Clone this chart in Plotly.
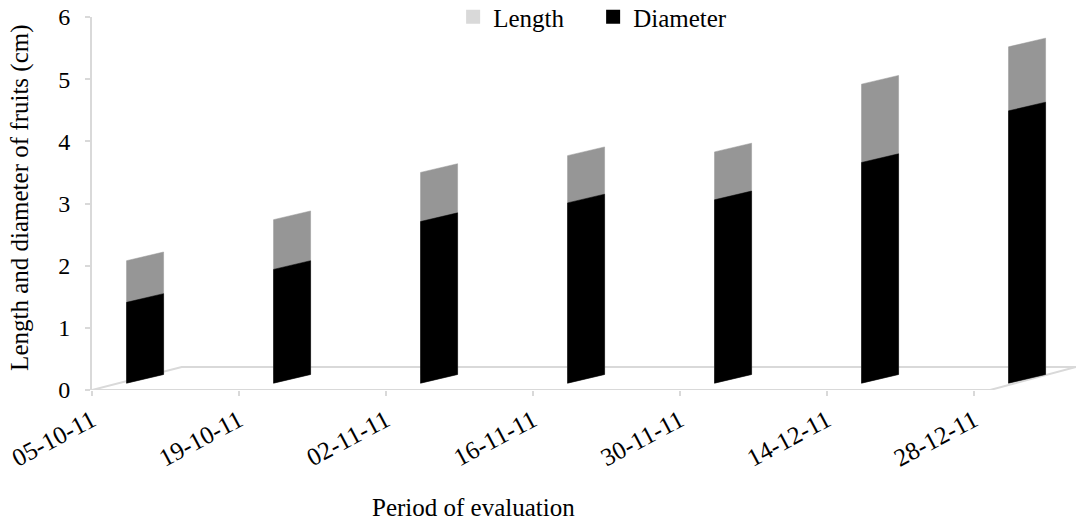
import plotly.graph_objects as go

# Evaluation dates and fruit measurements (cm)
dates = ["05-10-11", "19-10-11", "02-11-11", "16-11-11", "30-11-11", "14-12-11", "28-12-11"]
length_cm = [1.97, 2.63, 3.39, 3.66, 3.72, 4.81, 5.41]
diameter_cm = [1.30, 1.83, 2.60, 2.90, 2.95, 3.55, 4.38]

# Pseudo-3D styling: bars stand on a floor slightly behind the front edge
BAR_OFFSET = 0.235   # shift of each bar from its category tick
BAR_W = 0.252        # bar width in category units
FLOOR_Y = 0.11       # height where the bar meets the floor
SKEW = 0.14          # rise of the right edge of each bar
FLOOR_DEPTH_X = 0.61
FLOOR_DEPTH_Y = 0.37
FLOOR_FRONT_END = 6.11
X_MAX = 6.694

FONT = "Liberation Serif, Times New Roman, serif"
FLOOR_COLOR = "#d9d9d9"


def bar_polygon(i, value):
    x0 = i + BAR_OFFSET
    x1 = x0 + BAR_W
    xs = [x0, x1, x1, x0, x0]
    ys = [FLOOR_Y, FLOOR_Y + SKEW, FLOOR_Y + SKEW + value, FLOOR_Y + value, FLOOR_Y]
    return xs, ys


fig = go.Figure()

# Floor outline
floor_x = [0, FLOOR_FRONT_END, X_MAX, FLOOR_DEPTH_X, 0]
floor_y = [0, 0, FLOOR_DEPTH_Y, FLOOR_DEPTH_Y, 0]
fig.add_trace(go.Scatter(x=floor_x, y=floor_y, mode="lines",
                         line=dict(color=FLOOR_COLOR, width=2),
                         hoverinfo="skip", showlegend=False))

# Length bars (behind), diameter bars (in front)
for i, v in enumerate(length_cm):
    xs, ys = bar_polygon(i, v)
    fig.add_trace(go.Scatter(x=xs, y=ys, mode="lines", fill="toself",
                             fillcolor="#969696", line=dict(color="#969696", width=0.5),
                             name="Length", showlegend=False))
for i, v in enumerate(diameter_cm):
    xs, ys = bar_polygon(i, v)
    fig.add_trace(go.Scatter(x=xs, y=ys, mode="lines", fill="toself",
                             fillcolor="#000000", line=dict(color="#000000", width=0.5),
                             name="Diameter", showlegend=False))

# Legend entries
fig.add_trace(go.Scatter(x=[None], y=[None], mode="markers", name="Length",
                         marker=dict(symbol="square", size=14, color="#d9d9d9")))
fig.add_trace(go.Scatter(x=[None], y=[None], mode="markers", name="Diameter",
                         marker=dict(symbol="square", size=14, color="#000000")))

fig.update_layout(
    width=1076, height=522,
    margin=dict(l=92, r=0, t=17, b=132, autoexpand=False),
    paper_bgcolor="white", plot_bgcolor="white",
    font=dict(family=FONT, size=25, color="black"),
    legend=dict(orientation="h", x=0.367, y=1.0, xanchor="left", yanchor="middle",
                font=dict(family=FONT, size=25, color="black"),
                bgcolor="rgba(0,0,0,0)", itemwidth=30, entrywidth=95),
    xaxis=dict(range=[0, X_MAX], tickmode="array", tickvals=list(range(len(dates))),
               ticktext=dates, tickangle=-28, ticks="outside", ticklen=5,
               tickcolor=FLOOR_COLOR, tickwidth=1.5, showline=False, showgrid=False,
               zeroline=False, automargin=False,
               tickfont=dict(family=FONT, size=25, color="black")),
    yaxis=dict(range=[0, 6], tickvals=[0, 1, 2, 3, 4, 5, 6], ticks="outside", ticklen=5,
               tickcolor=FLOOR_COLOR, tickwidth=1.5, showline=True, linecolor=FLOOR_COLOR,
               linewidth=2, showgrid=False, zeroline=False, ticklabelstandoff=10,
               automargin=False, tickfont=dict(family=FONT, size=24, color="black")),
    annotations=[
        dict(text="Period of evaluation", xref="paper", yref="paper",
             x=0.388, y=-0.315, xanchor="center", yanchor="middle",
             showarrow=False, font=dict(family=FONT, size=25, color="black")),
        dict(text="Length and diameter of fruits (cm)", xref="paper", yref="paper",
             x=-0.0732, y=0.515, xanchor="center", yanchor="middle", textangle=-90,
             showarrow=False, font=dict(family=FONT, size=25, color="black")),
    ],
)

fig.write_html("out.html")
